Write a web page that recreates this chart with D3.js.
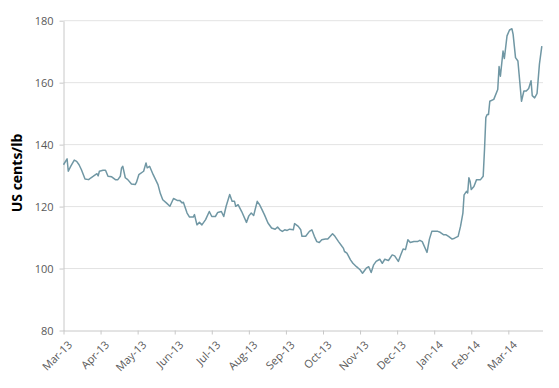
<!DOCTYPE html>
<html><head><meta charset="utf-8">
<script src="https://cdn.jsdelivr.net/npm/d3@7"></script>
<style>
body{margin:0;background:#fff;}
svg{display:block;}
text{font-family:"Open Sans","Liberation Sans",sans-serif;}
</style></head>
<body><svg id="chart" width="559" height="388"></svg>
<script>
// Month category starts (axis ticks) and labels
const monthStarts = ["2013-03-01","2013-04-01","2013-05-01","2013-06-01","2013-07-01","2013-08-01","2013-09-01","2013-10-01","2013-11-01","2013-12-01","2014-01-01","2014-02-01","2014-03-01","2014-04-01"];
const tickLabels = ["Mar-13","Apr-13","May-13","Jun-13","Jul-13","Aug-13","Sep-13","Oct-13","Nov-13","Dec-13","Jan-14","Feb-14","Mar-14"];
const yTicks = [80,100,120,140,160,180];

// Price series (US cents/lb)
const dates = [
"2013-03-01","2013-03-04","2013-03-05","2013-03-07","2013-03-10","2013-03-12","2013-03-14","2013-03-16","2013-03-19","2013-03-22","2013-03-24","2013-03-26","2013-03-29","2013-03-30","2013-03-31",
"2013-04-03","2013-04-05","2013-04-07","2013-04-10","2013-04-13","2013-04-15","2013-04-17","2013-04-18","2013-04-19","2013-04-21","2013-04-23","2013-04-26","2013-04-29","2013-04-30",
"2013-05-02","2013-05-06","2013-05-08","2013-05-09","2013-05-11","2013-05-14","2013-05-16","2013-05-18","2013-05-20","2013-05-22","2013-05-25","2013-05-28","2013-05-31",
"2013-06-03","2013-06-05","2013-06-07","2013-06-08","2013-06-11","2013-06-13","2013-06-16","2013-06-17","2013-06-19","2013-06-21","2013-06-23","2013-06-26","2013-06-29",
"2013-07-01","2013-07-04","2013-07-06","2013-07-09","2013-07-11","2013-07-13","2013-07-16","2013-07-18","2013-07-20","2013-07-21","2013-07-23","2013-07-26","2013-07-30",
"2013-08-01","2013-08-03","2013-08-05","2013-08-08","2013-08-10","2013-08-12","2013-08-14","2013-08-17","2013-08-20","2013-08-23","2013-08-25","2013-08-27","2013-08-29","2013-08-31",
"2013-09-02","2013-09-04","2013-09-07","2013-09-08","2013-09-11","2013-09-13","2013-09-14","2013-09-17","2013-09-20","2013-09-22","2013-09-24","2013-09-26","2013-09-28","2013-09-30",
"2013-10-03","2013-10-05","2013-10-09","2013-10-11","2013-10-14","2013-10-17","2013-10-18","2013-10-19","2013-10-21","2013-10-24","2013-10-26","2013-10-29",
"2013-11-01","2013-11-03","2013-11-06","2013-11-08","2013-11-10","2013-11-12","2013-11-14","2013-11-17","2013-11-19","2013-11-21","2013-11-24","2013-11-27","2013-11-29",
"2013-12-02","2013-12-04","2013-12-06","2013-12-08","2013-12-10","2013-12-12","2013-12-15","2013-12-18","2013-12-20","2013-12-22","2013-12-26","2013-12-28","2013-12-30",
"2014-01-01","2014-01-03","2014-01-04","2014-01-06","2014-01-09","2014-01-11","2014-01-13","2014-01-16","2014-01-18","2014-01-21","2014-01-23","2014-01-25","2014-01-26","2014-01-28","2014-01-29","2014-01-30","2014-01-31",
"2014-02-01","2014-02-03","2014-02-05","2014-02-08","2014-02-10","2014-02-11","2014-02-12","2014-02-13","2014-02-14","2014-02-15","2014-02-18","2014-02-21","2014-02-22","2014-02-23","2014-02-25","2014-02-26","2014-02-28",
"2014-03-02","2014-03-04","2014-03-05","2014-03-07","2014-03-09","2014-03-10","2014-03-12","2014-03-14","2014-03-16","2014-03-18","2014-03-20","2014-03-21","2014-03-23","2014-03-25","2014-03-27","2014-03-29"
];
const prices = [
133.5,135.4,131.4,133.0,135.0,134.6,133.5,131.9,128.9,128.7,129.3,129.8,130.6,129.9,131.4,
131.7,131.7,129.8,129.6,128.7,128.7,129.8,132.5,133.0,129.3,128.7,127.3,127.1,127.8,
130.3,131.4,134.1,132.5,133.0,130.3,128.7,127.1,124.2,122.2,121.2,120.1,122.6,
122.0,122.0,121.2,121.4,117.9,116.6,116.6,117.4,114.1,114.9,114.1,115.8,118.4,
116.8,116.8,118.1,118.4,116.8,120.1,123.9,121.7,121.7,120.1,120.6,118.4,114.9,
117.0,117.9,117.1,121.7,120.6,119.0,117.4,114.7,113.1,112.7,113.4,112.5,112.0,112.5,
112.3,112.7,112.5,114.5,113.6,112.5,110.4,110.4,112.0,112.5,110.4,108.7,108.4,109.3,
109.5,109.5,111.2,110.4,108.7,107.1,106.6,105.5,105.0,102.8,101.7,100.6,
99.6,98.5,100.1,100.6,98.7,101.2,102.3,103.0,101.7,103.0,102.6,104.4,104.1,
102.3,104.4,106.3,106.1,109.3,108.4,108.7,108.7,109.1,108.7,105.2,109.5,112.0,
112.0,112.0,112.0,111.7,110.9,110.9,110.4,109.5,109.8,110.4,113.6,117.9,123.8,124.9,124.4,129.3,128.2,
125.5,126.5,128.7,128.7,129.8,138.4,148.7,149.7,149.7,154.0,154.6,157.8,165.2,162.1,170.2,167.8,175.1,
177.0,177.4,175.6,168.1,167.0,162.7,154.0,157.3,157.3,158.1,160.6,155.8,155.1,156.5,166.0,171.8
];

const parse = d3.timeParse("%Y-%m-%d");
const svg = d3.select("#chart");
const padLeft = 63.5, monthStep = 37.07, padTop = 20.7, padBottom = 330.5, padRight = 543;

const monthDates = monthStarts.map(parse);
const x = d3.scaleTime().domain(monthDates).range(monthDates.map((d,i)=>padLeft + i*monthStep));
const y = d3.scaleLinear().domain([80,180]).range([padBottom, padTop]);

// gridlines
svg.append("g").selectAll("line").data(yTicks.filter(v=>v>80)).join("line")
  .attr("x1", padLeft).attr("x2", padRight)
  .attr("y1", d=>y(d)).attr("y2", d=>y(d))
  .attr("stroke", "#e3e3e3").attr("stroke-width", 1);

// y axis
const yAxis = svg.append("g").attr("transform", `translate(${padLeft},0)`)
  .call(d3.axisLeft(y).tickValues(yTicks).tickSize(4).tickSizeOuter(0).tickPadding(6));
yAxis.select(".domain").attr("stroke", "#c8c8c8");
yAxis.selectAll(".tick line").attr("stroke", "#c8c8c8");
yAxis.selectAll(".tick text").attr("fill", "#595959").style("font-size", "11px")
  .style("font-family", '"Open Sans", sans-serif');

// x axis
const xAxis = svg.append("g").attr("transform", `translate(0,${padBottom})`)
  .call(d3.axisBottom(x).tickValues(monthDates.slice(0,13)).tickFormat((d,i)=>tickLabels[i]).tickSize(4).tickSizeOuter(0));
xAxis.select(".domain").remove();
xAxis.append("line").attr("x1", padLeft).attr("x2", padRight).attr("y1", 0.5).attr("y2", 0.5).attr("stroke", "#c8c8c8");
xAxis.selectAll(".tick line").attr("stroke", "#c8c8c8");
xAxis.selectAll(".tick text").attr("fill", "#595959").style("font-size", "11px")
  .style("font-family", '"Open Sans", sans-serif')
  .attr("text-anchor", "end").attr("dy", "0")
  .attr("transform", "translate(4,10) rotate(-45)");

// y title
svg.append("text").attr("transform", "translate(22,173) rotate(-90)")
  .attr("text-anchor", "middle").attr("fill", "#000")
  .style("font-size", "14px").style("font-weight", "bold")
  .style("font-family", '"Open Sans", sans-serif')
  .text("US cents/lb");

// series line
const series = dates.map((d,i)=>({date: parse(d), value: prices[i]}));
svg.append("path").datum(series)
  .attr("fill", "none").attr("stroke", "#7097a4").attr("stroke-width", 1.5)
  .attr("stroke-linejoin", "round")
  .attr("d", d3.line().x(d=>x(d.date)).y(d=>y(d.value)));
</script></body></html>
